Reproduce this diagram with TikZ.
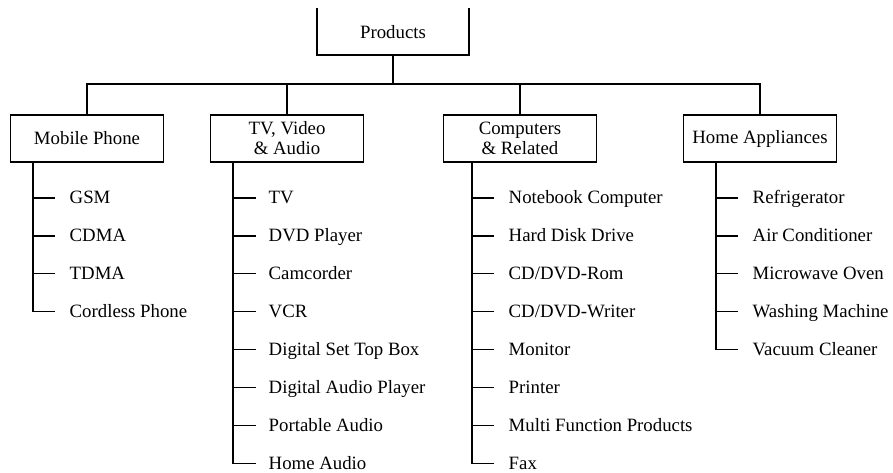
\documentclass[tikz,border=0pt]{standalone}
\usepackage{fontspec}
\setmainfont{Liberation Serif}
\begin{document}
\begin{tikzpicture}[x=1pt,y=-1pt,line width=1.4pt,
  txt/.style={font=\fontsize{18.8}{20}\selectfont},
  cat/.style={draw,txt,minimum width=153pt,minimum height=47pt,align=center,inner sep=0pt},
  item/.style={txt,anchor=west,inner sep=0pt,text height=12pt,text depth=0pt}]
\useasboundingbox (0,0) rectangle (893,472);
% top box (open at top)
\draw (317,8) -- (317,55) -- (469,55) -- (469,8);
\node[txt] (prod) at (393,32) {Products};
\coordinate (pb) at (393,55);
\coordinate (bus) at (393,84);
% categories
\node[cat] (mob)  at (87,138.5)  {Mobile Phone};
\node[cat] (tv)   at (287,138.5) {TV, Video\\\& Audio};
\node[cat] (comp) at (520,138.5) {Computers\\\& Related};
\node[cat] (home) at (760,138.5) {Home Appliances};
\draw (pb) -- (bus);
\draw (mob.north) |- (bus -| home.north) -- (home.north);
\draw (tv.north) -- (tv.north |- bus);
\draw (comp.north) -- (comp.north |- bus);
% trunks
\coordinate (mtr) at (33,0);
\coordinate (ttr) at (233,0);
\coordinate (ctr) at (472,0);
\coordinate (htr) at (716,0);
% items
\foreach \t [count=\i] in {GSM,CDMA,TDMA,Cordless Phone}
  \node[item] (m\i) at (69,160+37.9*\i) {\t};
\foreach \t [count=\i] in {TV,DVD Player,Camcorder,VCR,Digital Set Top Box,Digital Audio Player,Portable Audio,Home Audio}
  \node[item] (t\i) at (268,160+37.9*\i) {\t};
\foreach \t [count=\i] in {Notebook Computer,Hard Disk Drive,CD/DVD-Rom,CD/DVD-Writer,Monitor,Printer,Multi Function Products,Fax}
  \node[item] (c\i) at (508,160+37.9*\i) {\t};
\foreach \t [count=\i] in {Refrigerator,Air Conditioner,Microwave Oven,Washing Machine,Vacuum Cleaner}
  \node[item] (h\i) at (752,160+37.9*\i) {\t};
% connectors
\draw (mob.south -| mtr) |- ([xshift=-14pt]m4.west);
\foreach \i in {1,2,3} \draw (m\i.west -| mtr) -- ([xshift=-14pt]m\i.west);
\draw (tv.south -| ttr) |- ([xshift=-12pt]t8.west);
\foreach \i in {1,...,7} \draw (t\i.west -| ttr) -- ([xshift=-12pt]t\i.west);
\draw (comp.south -| ctr) |- ([xshift=-14pt]c8.west);
\foreach \i in {1,...,7} \draw (c\i.west -| ctr) -- ([xshift=-14pt]c\i.west);
\draw (home.south -| htr) |- ([xshift=-14pt]h5.west);
\foreach \i in {1,...,4} \draw (h\i.west -| htr) -- ([xshift=-14pt]h\i.west);
\end{tikzpicture}
\end{document}
